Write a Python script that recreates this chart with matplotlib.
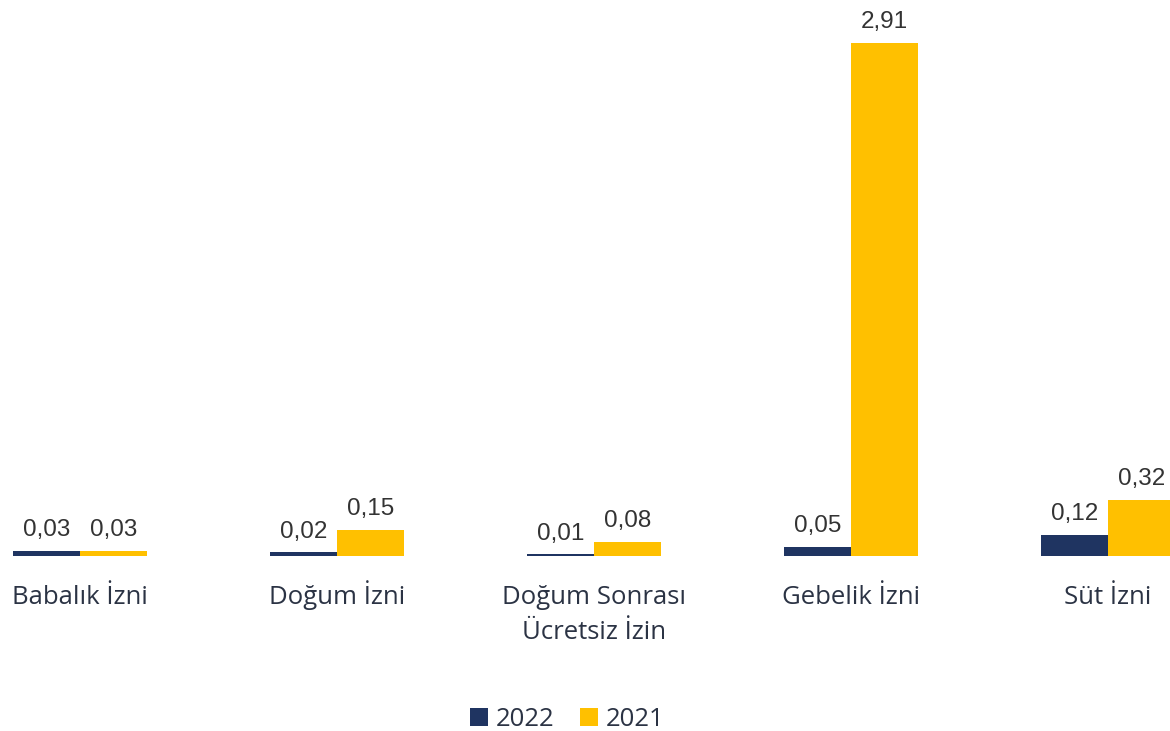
import matplotlib
matplotlib.use("Agg")
import matplotlib.pyplot as plt
import matplotlib.transforms as mtransforms
import numpy as np

categories = ["Babalık İzni", "Doğum İzni", "Doğum Sonrası\nÜcretsiz İzin", "Gebelik İzni", "Süt İzni"]
series_names = ["2022", "2021"]
values_2022 = [0.03, 0.02, 0.01, 0.05, 0.12]
values_2021 = [0.03, 0.15, 0.08, 2.91, 0.32]

colors = ["#1F3461", "#FFC000"]
W, H = 1170, 731
fig = plt.figure(figsize=(W / 100, H / 100), dpi=100)
fig.patch.set_facecolor("white")

ax = fig.add_axes([0, 1 - 556 / H, 1, 556 / H])
ax.set_facecolor("none")
x = np.arange(len(categories))
bw = 67 / 257
b1 = ax.bar(x - bw / 2, values_2022, bw, color=colors[0], label=series_names[0], zorder=3)
b2 = ax.bar(x + bw / 2, values_2021, bw, color=colors[1], label=series_names[1], zorder=3)

for bars, vals in [(b1, values_2022), (b2, values_2021)]:
    for r, v in zip(bars, vals):
        ax.annotate(f"{v:.2f}".replace(".", ","), (r.get_x() + r.get_width() / 2, r.get_height()),
                    xytext=(0, 7), textcoords="offset points", ha="center", va="bottom",
                    fontsize=17.5, color="#333333", family="Liberation Sans")

ax.set_xlim(-80 / 257, 1090 / 257)
ax.set_ylim(0, 556 / 176.3)
ax.set_xticks([])
ax.set_yticks([])
for s in ax.spines.values():
    s.set_visible(False)

# category labels, baseline aligned (first baseline 48 px below axis, line step 35 px)
trans = mtransforms.blended_transform_factory(ax.transData, ax.transAxes)
for xi, cat in zip(x, categories):
    for li, line in enumerate(cat.split("\n")):
        off = mtransforms.ScaledTranslation(0, -(48 + 35 * li) / 100, fig.dpi_scale_trans)
        ax.text(xi, 0, line, transform=trans + off, ha="center", va="baseline",
                fontsize=18.5, color="#2b3344", family="Open Sans")

fig.legend(handles=[b1, b2], labels=series_names, loc="center",
           bbox_to_anchor=(567 / W, 1 - 719 / H), ncol=2, frameon=False,
           prop={"family": "Open Sans", "size": 18.5}, labelcolor="#2b3344",
           handlelength=0.7, handleheight=0.7, handletextpad=0.3, columnspacing=1.0)

fig.savefig("out.png", dpi=100, facecolor="white")
